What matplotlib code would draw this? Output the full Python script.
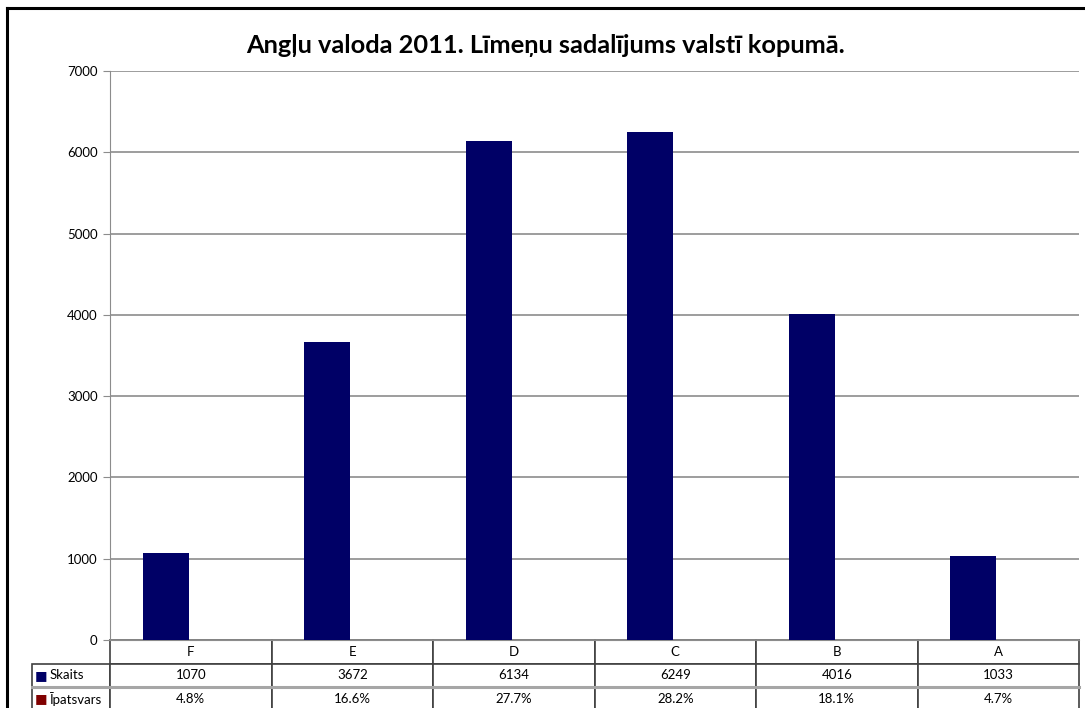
import matplotlib.pyplot as plt
from matplotlib.lines import Line2D
from matplotlib.table import Table

plt.rcParams['font.family'] = ['Lato', 'DejaVu Sans']

# data
levels = ['F', 'E', 'D', 'C', 'B', 'A']
skaits = [1070, 3672, 6134, 6249, 4016, 1033]
ipatsvars = [0.048, 0.166, 0.277, 0.282, 0.181, 0.047]
ipatsvars_txt = ['4.8%', '16.6%', '27.7%', '28.2%', '18.1%', '4.7%']
row_names = ['Skaits', 'Īpatsvars']
yticks = [0, 1000, 2000, 3000, 4000, 5000, 6000, 7000]

navy = '#000066'
maroon = '#800000'
grid_c = '#8c8c8c'
edge_c = '#404040'

fig = plt.figure(figsize=(10.85, 7.08), dpi=100)
ax = fig.add_axes([0.1014, 0.0960, 0.8931, 0.8037])

x = list(range(len(levels)))
bw = 0.285
ax.bar([i - 0.297 for i in x], skaits, width=bw, align='edge', color=navy, zorder=3)
ax.bar([i - 0.012 for i in x], ipatsvars, width=bw, align='edge', color=maroon, zorder=3)

ax.set_xlim(-0.5, len(levels) - 0.5)
ax.set_ylim(0, 7000)
ax.set_yticks(yticks)
ax.set_yticklabels([str(v) for v in yticks], fontsize=9.5)
ax.set_xticks([])
ax.yaxis.grid(True, color=grid_c, linewidth=1.2, zorder=0)
ax.set_axisbelow(True)
for s in ['top', 'right']:
    ax.spines[s].set_visible(False)
ax.spines['left'].set_color(grid_c)
ax.spines['bottom'].set_color(grid_c)
ax.tick_params(axis='y', length=5, color=grid_c, pad=4)

# data table under the chart, built cell by cell
# (bbox only covers the data grid, the label column hangs off to the left)
lab_w = 0.0805
row_h = 0.0413
col_w = 1 / len(levels)
tbl = Table(ax, bbox=[0, -3 * row_h, 1, 3 * row_h])
tbl.auto_set_font_size(False)
rows = [levels, [str(v) for v in skaits], ipatsvars_txt]
for r, vals in enumerate(rows):
    for c, v in enumerate(vals):
        tbl.add_cell(r, c, col_w, row_h, text=v, loc='center', facecolor='white')
    if r > 0:
        cell = tbl.add_cell(r, -1, lab_w, row_h, text=row_names[r - 1], loc='left',
                            facecolor='white')
        cell.PAD = 0.23
tbl.set_fontsize(9.5)
for cell in tbl.get_celld().values():
    cell.set_edgecolor(edge_c)
    cell.set_linewidth(1.2)
ax.add_table(tbl)

# lighter separator between the two data rows
ax.plot([-lab_w, 1], [-2 * row_h, -2 * row_h], transform=ax.transAxes,
        color='#a6a6a6', linewidth=2.2, clip_on=False, zorder=5)

# legend keys in the row labels
for r, col in [(1, navy), (2, maroon)]:
    ax.text(-0.0712, -(r + 0.5) * row_h, '■', color=col, fontsize=9.5,
            ha='center', va='center', transform=ax.transAxes,
            family=['DejaVu Sans'])

fig.text(0.503, 0.936, 'Angļu valoda 2011. Līmeņu sadalījums valstī kopumā.',
         ha='center', va='center', fontsize=18.3, fontweight='bold')

# outer frame
fig.add_artist(Line2D([0.0065, 1.0], [0.988, 0.988], color='black', linewidth=2.2,
                      transform=fig.transFigure))
fig.add_artist(Line2D([0.0065, 0.0065], [0.0, 0.988], color='black', linewidth=2.2,
                      transform=fig.transFigure))

fig.savefig('out.png', dpi=100)
